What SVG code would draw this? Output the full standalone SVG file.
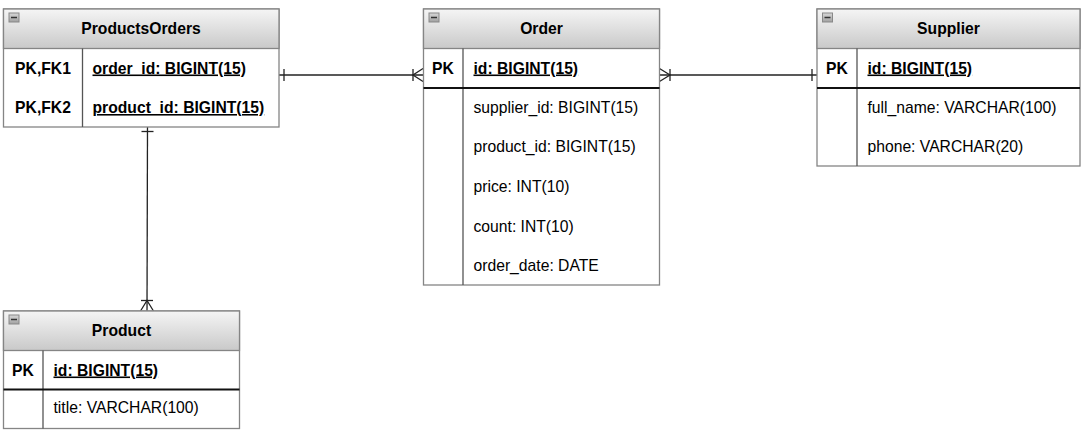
<svg xmlns="http://www.w3.org/2000/svg" width="1084" height="439" viewBox="0 0 1084 439">
<defs>
<linearGradient id="hdr" x1="0" y1="0" x2="0" y2="1">
<stop offset="0" stop-color="#f5f5f5"/>
<stop offset="1" stop-color="#c9c9c9"/>
</linearGradient>
<linearGradient id="ico" x1="0" y1="0" x2="0" y2="1">
<stop offset="0" stop-color="#d8d8d8"/>
<stop offset="1" stop-color="#a0a0a0"/>
</linearGradient>
</defs>
<style>
.box{fill:#ffffff;stroke:#858585;stroke-width:1.3}
.hd{fill:url(#hdr);stroke:#858585;stroke-width:1.3}
.div{stroke:#555;stroke-width:1.3}
.sep{stroke:#111;stroke-width:2}
.icon{fill:url(#ico);stroke:#888;stroke-width:1}
.minus{stroke:#333;stroke-width:1.5}
text{font-family:"Liberation Sans",Arial,sans-serif;font-size:15.7px;fill:#000}
.t{font-weight:bold;text-anchor:middle}
.k{font-weight:bold;text-anchor:middle}
.pk{font-weight:bold;text-decoration:underline}
.ln{stroke:#222;stroke-width:1.3;fill:none}
</style>
<rect width="1084" height="439" fill="#ffffff"/>

<g id="connectors">
<!-- ProductsOrders -> Order -->
<line class="ln" x1="279" y1="75" x2="423" y2="75"/>
<line class="ln" x1="284" y1="69" x2="284" y2="81"/>
<line class="ln" x1="413" y1="69" x2="413" y2="81"/>
<polyline class="ln" points="423,68.5 413,75 423,81.5"/>
<!-- Order -> Supplier -->
<line class="ln" x1="659" y1="75" x2="817" y2="75"/>
<polyline class="ln" points="659.5,68.5 670,75 659.5,81.5"/>
<line class="ln" x1="670" y1="69" x2="670" y2="81"/>
<line class="ln" x1="812" y1="69" x2="812" y2="81"/>
<!-- ProductsOrders -> Product -->
<line class="ln" x1="147.5" y1="127" x2="147" y2="311"/>
<line class="ln" x1="141.5" y1="131.5" x2="153.5" y2="131.5"/>
<line class="ln" x1="141" y1="300.5" x2="153" y2="300.5"/>
<polyline class="ln" points="140.5,311 147,300.5 153.5,311"/>
</g>

<g id="ProductsOrders">
<rect class="box" x="3.5" y="9" width="275.5" height="118"/>
<rect class="hd" x="3.5" y="9" width="275.5" height="39.5"/>
<rect class="icon" x="9" y="13" width="10" height="9"/>
<line class="minus" x1="11" y1="17.5" x2="17" y2="17.5"/>
<text class="t" x="141" y="34">ProductsOrders</text>
<line class="div" x1="82.5" y1="48.5" x2="82.5" y2="127"/>
<text class="k" x="43" y="73.5">PK,FK1</text>
<text class="k" x="43" y="113">PK,FK2</text>
<text class="pk" x="92.5" y="73.5">order_id: BIGINT(15)</text>
<text class="pk" x="92.5" y="113">product_id: BIGINT(15)</text>
</g>

<g id="Order">
<rect class="box" x="423.5" y="9" width="236" height="276"/>
<rect class="hd" x="423.5" y="9" width="236" height="39.5"/>
<rect class="icon" x="429" y="13" width="10" height="9"/>
<line class="minus" x1="431" y1="17.5" x2="437" y2="17.5"/>
<text class="t" x="541.5" y="34">Order</text>
<line class="div" x1="463" y1="48.5" x2="463" y2="285"/>
<line class="sep" x1="423.5" y1="88" x2="659.5" y2="88"/>
<text class="k" x="443" y="73.5">PK</text>
<text class="pk" x="473.5" y="73.5">id: BIGINT(15)</text>
<text x="473.5" y="112.5">supplier_id: BIGINT(15)</text>
<text x="473.5" y="152">product_id: BIGINT(15)</text>
<text x="473.5" y="192">price: INT(10)</text>
<text x="473.5" y="231.5">count: INT(10)</text>
<text x="473.5" y="271">order_date: DATE</text>
</g>

<g id="Supplier">
<rect class="box" x="817" y="9" width="263" height="157"/>
<rect class="hd" x="817" y="9" width="263" height="39.5"/>
<rect class="icon" x="822.5" y="13" width="10" height="9"/>
<line class="minus" x1="824.5" y1="17.5" x2="830.5" y2="17.5"/>
<text class="t" x="948.5" y="34">Supplier</text>
<line class="div" x1="857" y1="48.5" x2="857" y2="166"/>
<line class="sep" x1="817" y1="88" x2="1080" y2="88"/>
<text class="k" x="837" y="73.5">PK</text>
<text class="pk" x="867.5" y="73.5">id: BIGINT(15)</text>
<text x="867.5" y="112.5">full_name: VARCHAR(100)</text>
<text x="867.5" y="152">phone: VARCHAR(20)</text>
</g>

<g id="Product">
<rect class="box" x="3.5" y="311" width="236" height="117.5"/>
<rect class="hd" x="3.5" y="311" width="236" height="39.5"/>
<rect class="icon" x="9" y="315" width="10" height="9"/>
<line class="minus" x1="11" y1="319.5" x2="17" y2="319.5"/>
<text class="t" x="121.5" y="336">Product</text>
<line class="div" x1="43" y1="350.5" x2="43" y2="428.5"/>
<line class="sep" x1="3.5" y1="389.5" x2="239.5" y2="389.5"/>
<text class="k" x="23" y="375.5">PK</text>
<text class="pk" x="53.5" y="375.5">id: BIGINT(15)</text>
<text x="53.5" y="413">title: VARCHAR(100)</text>
</g>
</svg>
